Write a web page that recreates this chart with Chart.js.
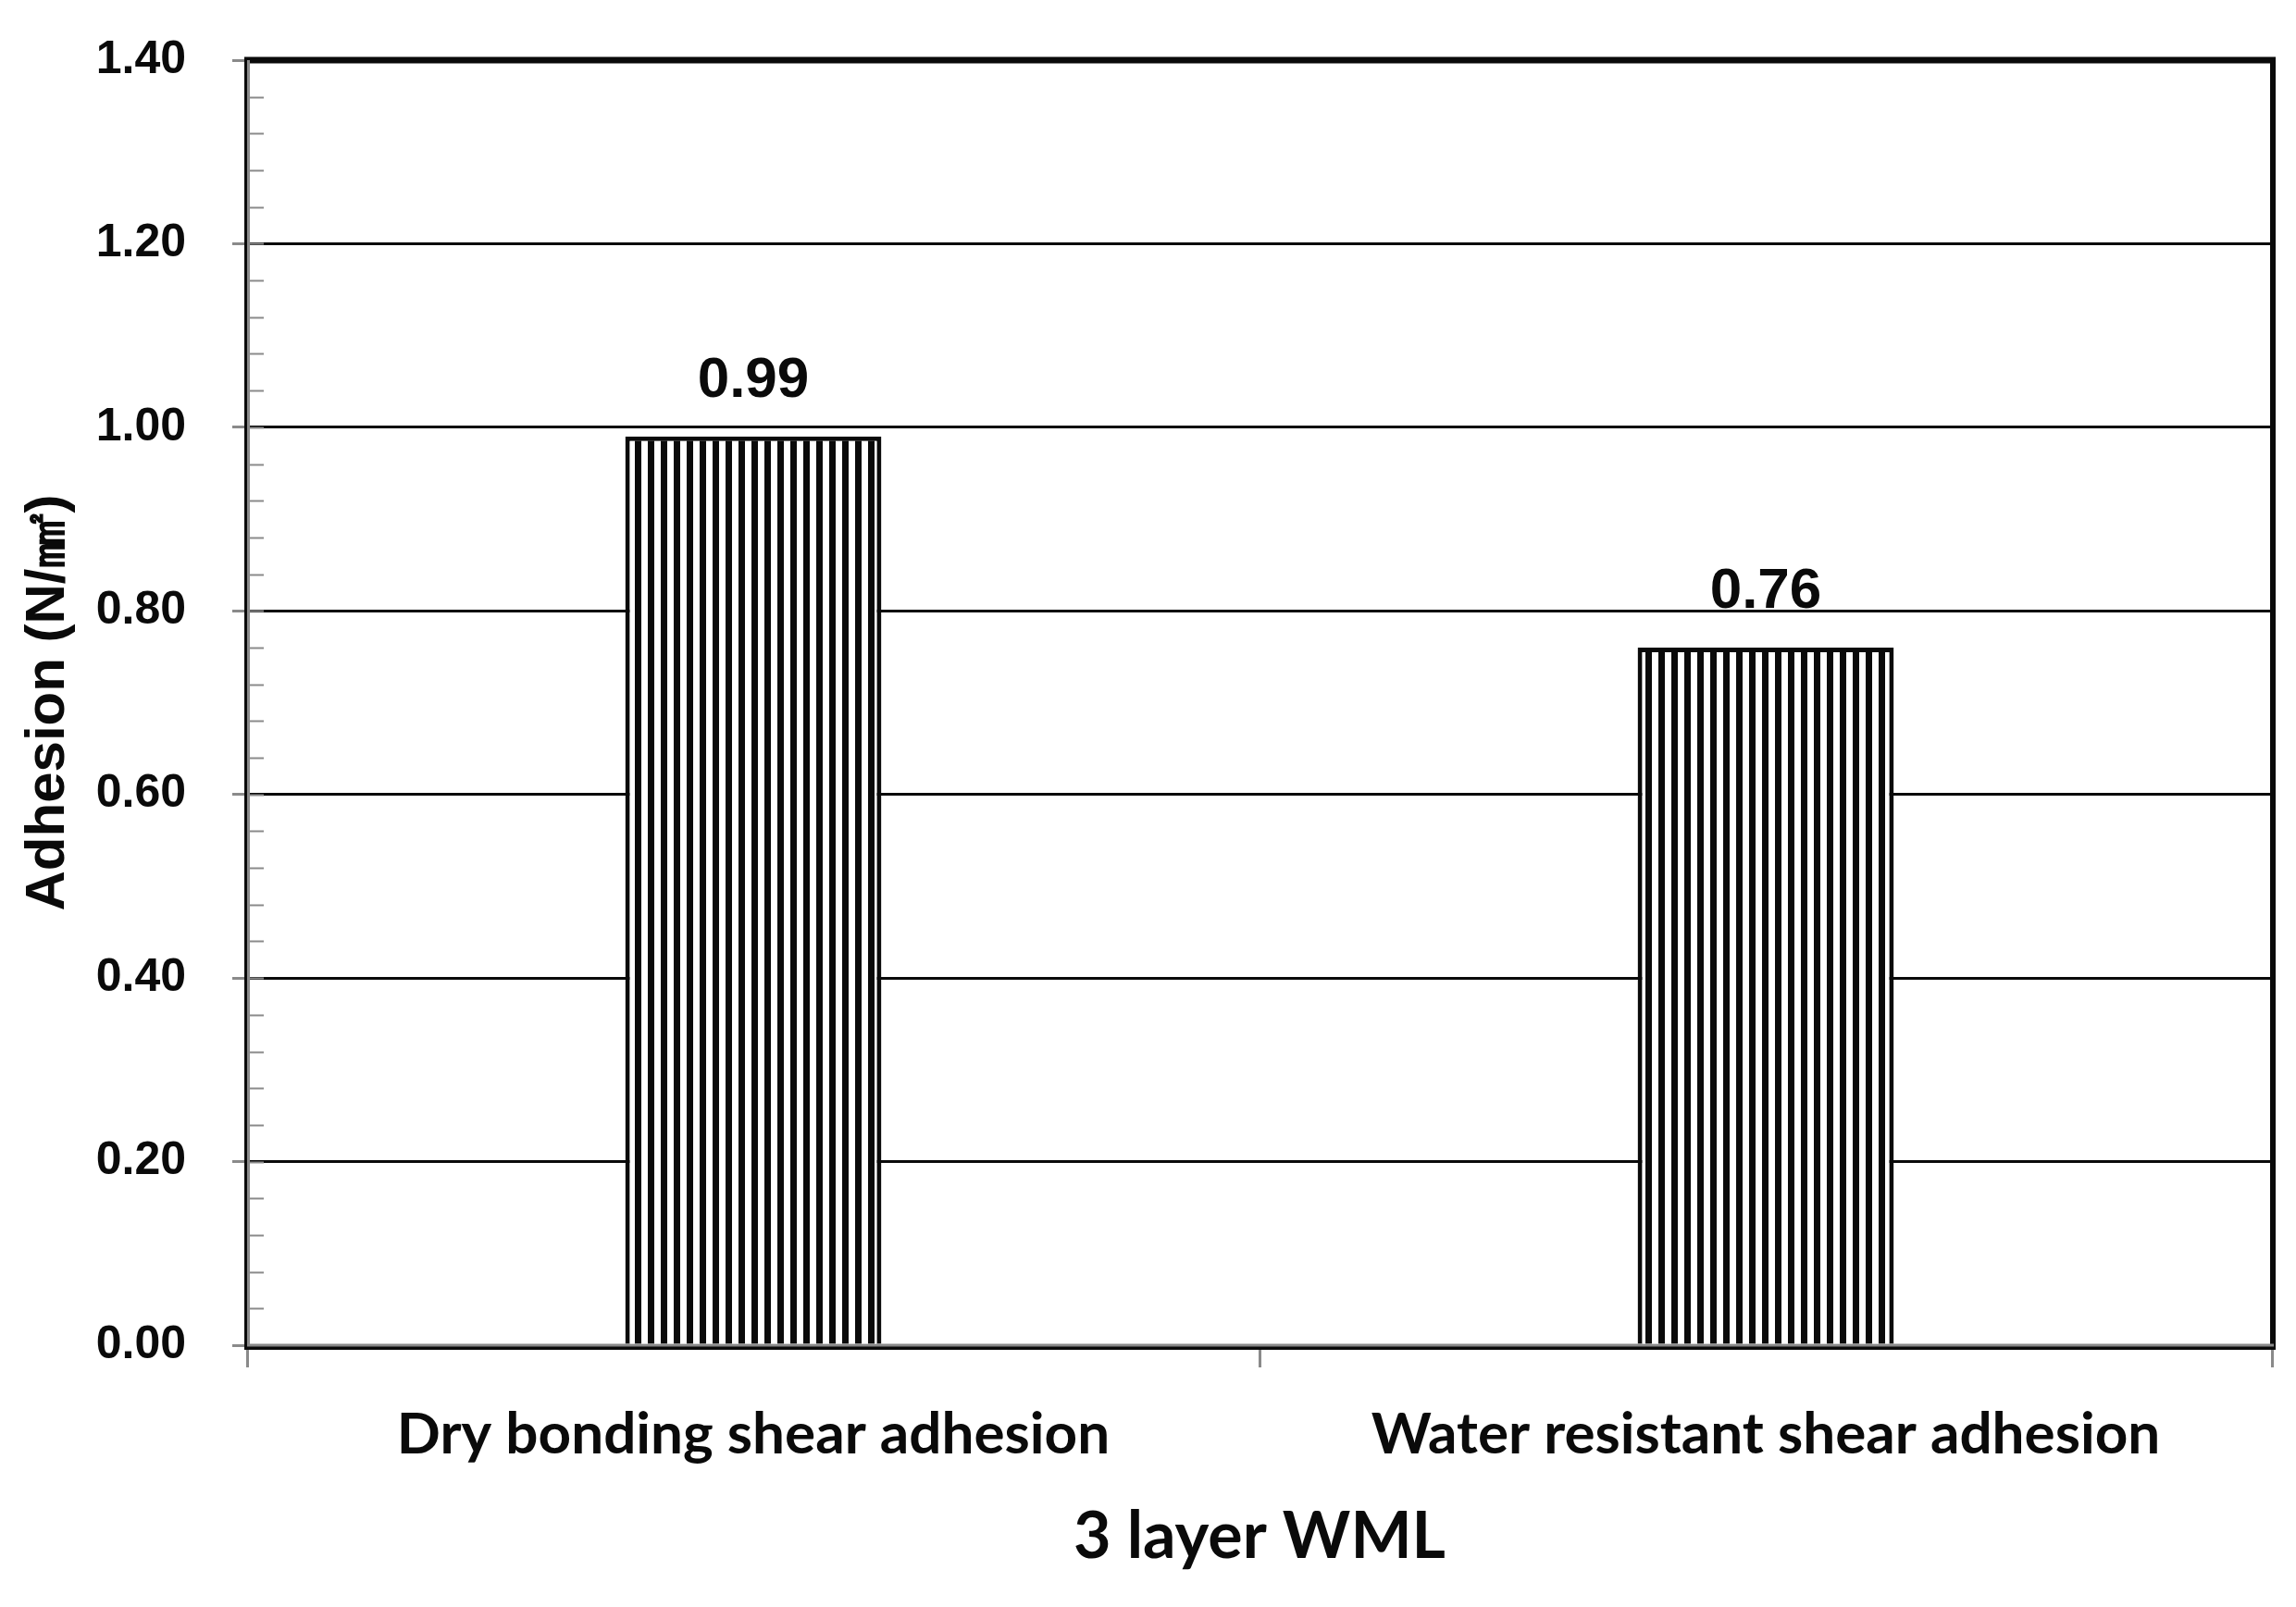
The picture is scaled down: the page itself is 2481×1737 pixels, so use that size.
<!DOCTYPE html>
<html>
<head>
<meta charset="utf-8">
<title>Adhesion – 3 layer WML</title>
<script src="https://cdn.jsdelivr.net/npm/chart.js@4.4.1/dist/chart.umd.min.js"></script>
<style>
  html, body { margin: 0; padding: 0; background: #fff; }
  canvas { display: block; }
</style>
</head>
<body>
<canvas id="chart" width="2481" height="1737"></canvas>
<script>
// values
const categories = ['Dry bonding shear adhesion', 'Water resistant shear adhesion'];
const adhesion = [0.99, 0.76];
const yTicks = [0, 0.2, 0.4, 0.6, 0.8, 1.0, 1.2, 1.4];
const yTitle = 'Adhesion (N/㎟)';
const xTitle = '3 layer WML';

const INK = '#0a0a0a';
const GREY = '#8a8a8a';
const LABEL = 'Lato, "Liberation Sans", Arial, sans-serif';
const SANS = '"Liberation Sans", Arial, sans-serif';

// vertical hatch used for the bars
function stripes() {
  const c = document.createElement('canvas');
  c.width = 14; c.height = 14;
  const g = c.getContext('2d');
  g.fillStyle = '#fff';
  g.fillRect(0, 0, 14, 14);
  g.fillStyle = INK;
  g.fillRect(0, 0, 7, 14);
  return g.createPattern(c, 'repeat');
}

// thick frame + minor ticks, drawn before the bars
const framePlugin = {
  id: 'frame',
  beforeDatasetsDraw(chart) {
    const { ctx, chartArea: a, scales } = chart;
    const y = scales.y;
    ctx.save();
    // minor ticks every 0.04 on the inside of the left axis
    ctx.strokeStyle = GREY;
    ctx.lineWidth = 2;
    for (let v = y.min; v <= y.max + 1e-9; v += 0.04) {
      const py = Math.round(y.getPixelForValue(v)) + 0.5;
      ctx.beginPath();
      ctx.moveTo(a.left, py);
      ctx.lineTo(a.left + 18, py);
      ctx.stroke();
    }
    ctx.strokeStyle = INK;
    ctx.lineWidth = 7;
    ctx.beginPath(); ctx.moveTo(a.left - 3, a.top); ctx.lineTo(a.right + 4, a.top); ctx.stroke();
    ctx.lineWidth = 6;
    ctx.beginPath(); ctx.moveTo(a.right + 1, a.top); ctx.lineTo(a.right + 1, a.bottom + 4); ctx.stroke();
    ctx.lineWidth = 4;
    ctx.beginPath(); ctx.moveTo(a.left - 1, a.top); ctx.lineTo(a.left - 1, a.bottom + 4); ctx.stroke();
    ctx.beginPath(); ctx.moveTo(a.left - 3, a.bottom + 3); ctx.lineTo(a.right + 4, a.bottom + 3); ctx.stroke();
    // grey axis lines on top of the black frame
    ctx.strokeStyle = GREY;
    ctx.lineWidth = 3;
    ctx.beginPath(); ctx.moveTo(a.left + 1.5, a.top); ctx.lineTo(a.left + 1.5, a.bottom); ctx.stroke();
    ctx.beginPath(); ctx.moveTo(a.left, a.bottom); ctx.lineTo(a.right + 2, a.bottom); ctx.stroke();
    ctx.restore();
  }
};

// value labels above each bar
const valueLabels = {
  id: 'valueLabels',
  afterDatasetsDraw(chart) {
    const { ctx } = chart;
    const meta = chart.getDatasetMeta(0);
    ctx.save();
    ctx.fillStyle = INK;
    ctx.font = 'bold 62px ' + SANS;
    ctx.textAlign = 'center';
    ctx.textBaseline = 'alphabetic';
    meta.data.forEach((bar, i) => {
      ctx.fillText(adhesion[i].toFixed(2), bar.x, bar.y - 43);
    });
    ctx.restore();
  }
};

const ctx = document.getElementById('chart').getContext('2d');
new Chart(ctx, {
  type: 'bar',
  data: {
    labels: categories,
    datasets: [{
      data: adhesion,
      backgroundColor: stripes(),
      borderColor: INK,
      borderWidth: 5,
      borderSkipped: 'start',
      barPercentage: 0.253,
      categoryPercentage: 1
    }]
  },
  options: {
    responsive: false,
    animation: false,
    devicePixelRatio: 1,
    layout: { padding: { top: 65, right: 26, left: 0, bottom: 0 } },
    plugins: {
      legend: { display: false },
      tooltip: { enabled: false }
    },
    scales: {
      y: {
        min: 0,
        max: 1.4,
        afterBuildTicks: s => { s.ticks = yTicks.map(v => ({ value: v })); },
        afterFit: s => { s.width = 267; s.paddingTop = 0; s.paddingBottom = 0; },
        ticks: {
          color: INK,
          font: { family: SANS, size: 50, weight: 'bold' },
          padding: 50,
          callback: v => Number(v).toFixed(2)
        },
        grid: {
          color: INK,
          lineWidth: 3,
          tickColor: GREY,
          tickWidth: 3,
          tickLength: 16
        },
        border: { display: false },
        title: {
          display: true,
          text: yTitle,
          color: INK,
          font: { family: SANS, size: 60, weight: 'bold' },
          padding: { top: 16, bottom: 0 }
        }
      },
      x: {
        afterFit: s => { s.height = 283; s.paddingLeft = 0; s.paddingRight = 0; },
        ticks: {
          color: INK,
          font: { family: LABEL, size: 62, weight: 'bold' },
          padding: 36,
          maxRotation: 0
        },
        grid: {
          offset: true,
          drawOnChartArea: false,
          tickColor: GREY,
          tickWidth: 3,
          tickLength: 24
        },
        border: { display: false },
        title: {
          display: true,
          text: xTitle,
          color: INK,
          font: { family: LABEL, size: 70, weight: 'bold' },
          padding: { top: 0, bottom: 34 }
        }
      }
    }
  },
  plugins: [framePlugin, valueLabels]
});
</script>
</body>
</html>
